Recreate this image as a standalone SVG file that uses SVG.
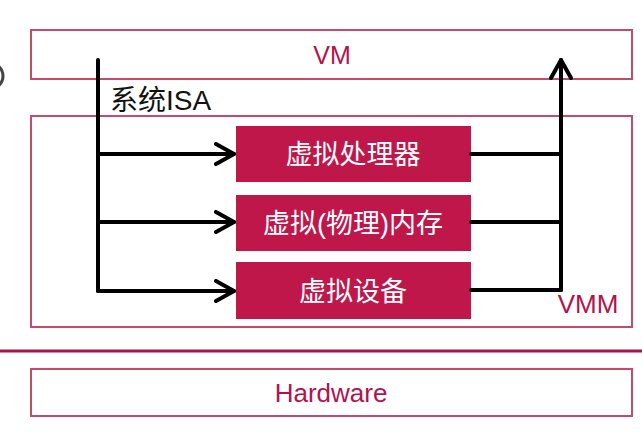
<svg xmlns="http://www.w3.org/2000/svg" width="642" height="434" viewBox="0 0 642 434">
<defs>
<style>
.frame{fill:#fff;stroke:#c44a6e;stroke-width:2}
.blk{fill:#c0174a;stroke:none}
.lbl{font-family:"Liberation Sans","Noto Sans CJK SC",sans-serif;fill:#b5124b}
.wt{font-family:"Liberation Sans","Noto Sans CJK SC",sans-serif;fill:#fff;font-size:27px}
.ln{fill:none;stroke:#000;stroke-width:4;stroke-linecap:round;stroke-linejoin:round}
</style>
<marker id="ah" viewBox="0 0 22 24" refX="20" refY="12" markerWidth="22" markerHeight="24" markerUnits="userSpaceOnUse" orient="auto">
<path d="M2,2 L20,12 L2,22" fill="none" stroke="#000" stroke-width="4" stroke-linecap="round" stroke-linejoin="round"/>
</marker>
</defs>
<rect width="642" height="434" fill="#fff"/>
<circle cx="-10" cy="76" r="13" fill="none" stroke="#444" stroke-width="3"/>
<g id="vm">
<rect class="frame" x="31" y="30" width="601" height="49"/>
<text class="lbl" x="332" y="64" font-size="25" text-anchor="middle">VM</text>
</g>
<g id="vmm">
<rect class="frame" x="31" y="116" width="601" height="211"/>
<text class="lbl" x="588" y="313" font-size="26" text-anchor="middle">VMM</text>
</g>
<g id="sysisa">
<text x="110" y="110" font-size="28" font-family="Liberation Sans,Noto Sans CJK SC,sans-serif" fill="#111">系统ISA</text>
</g>
<g id="cpu">
<rect class="blk" x="236" y="126" width="235" height="56"/>
<text class="wt" x="353" y="164" text-anchor="middle">虚拟处理器</text>
</g>
<g id="mem">
<rect class="blk" x="236" y="195" width="235" height="56"/>
<text class="wt" x="353" y="233" text-anchor="middle">虚拟(物理)内存</text>
</g>
<g id="dev">
<rect class="blk" x="236" y="262" width="235" height="57"/>
<text class="wt" x="353" y="301" text-anchor="middle">虚拟设备</text>
</g>
<g id="sep">
<line x1="0" y1="351" x2="642" y2="351" stroke="#a8134a" stroke-width="3"/>
</g>
<g id="hw">
<rect class="frame" x="31" y="369" width="601" height="47"/>
<text class="lbl" x="331" y="402" font-size="26" text-anchor="middle">Hardware</text>
</g>
<g id="connectors">
<path class="ln" d="M98,60 L98,291"/>
<path class="ln" d="M98,154 L234,154" marker-end="url(#ah)"/>
<path class="ln" d="M98,222 L234,222" marker-end="url(#ah)"/>
<path class="ln" d="M98,291 L234,291" marker-end="url(#ah)"/>
<path class="ln" d="M471,154 L561,154 M471,222 L561,222 M471,290 L561,290"/>
<path class="ln" d="M561,290 L561,60" marker-end="url(#ah)"/>
</g>
</svg>
